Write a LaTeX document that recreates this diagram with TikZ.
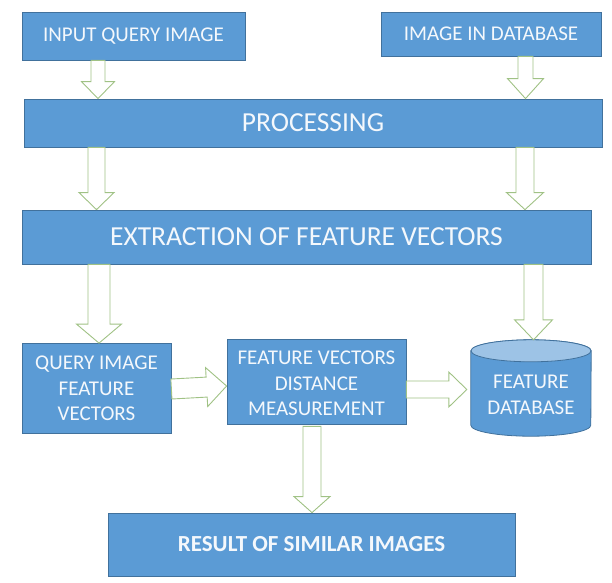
\documentclass[tikz,border=0pt]{standalone}
\usepackage{fontspec}
\setmainfont{Carlito}
\usetikzlibrary{calc,backgrounds}

\definecolor{boxblue}{HTML}{5B9BD5}
\definecolor{boxedge}{HTML}{41719C}
\definecolor{captop}{HTML}{9DC3E6}
\definecolor{arrowedge}{HTML}{A0C285}
\definecolor{labelwhite}{HTML}{F4F8FC}

\tikzset{
  blockbox/.style={rectangle, draw=boxedge, fill=boxblue, line width=0.8pt,
    inner sep=0pt, text=labelwhite, align=center, font=\fontsize{21}{25.5}\selectfont},
  widebox/.style={blockbox, font=\fontsize{27.5}{31}\selectfont},
  resultbox/.style={blockbox, font=\fontsize{23}{27}\selectfont\bfseries},
  cylframe/.style={rectangle, inner sep=0pt},
  cyllabel/.style={inner sep=0pt, text=labelwhite, align=center,
    font=\fontsize{21}{25.5}\selectfont},
  cylbody/.style={fill=boxblue, draw=boxedge, line width=0.8pt},
  cylcap/.style={fill=captop, draw=boxedge, line width=0.8pt},
  blockarrow/.style={draw=arrowedge, fill=white, line width=0.9pt, line join=miter}
}

% hollow block arrow: start, tip, shaft half-width, head half-width, head length
\newcommand\fatarrow[5]{%
  \coordinate (fa-h) at ($(#2)!#5!(#1)$);
  \draw[blockarrow]
    ($(#1)!#3!90:(#2)$) -- ($(fa-h)!#3!-90:(#1)$) -- ($(fa-h)!#4!-90:(#1)$)
    -- (#2) -- ($(fa-h)!#4!90:(#1)$) -- ($(fa-h)!#3!90:(#1)$)
    -- ($(#1)!#3!-90:(#2)$) -- cycle;}

\begin{document}
\begin{tikzpicture}[x=1pt,y=-1pt]
  \useasboundingbox (0,0) rectangle (612,582);

  % boxes
  \node[blockbox, minimum width=223pt, minimum height=48pt] (inq) at (133.5,36) {INPUT QUERY IMAGE};
  \node[blockbox, minimum width=220pt, minimum height=44pt] (imdb) at (491,34) {IMAGE IN DATABASE};
  \node[widebox, minimum width=578pt, minimum height=48pt] (proc) at (313,123) {PROCESSING};
  \node[widebox, minimum width=569pt, minimum height=54pt] (extr) at (306.5,237) {EXTRACTION OF FEATURE VECTORS};
  \node[blockbox, minimum width=149pt, minimum height=90pt] (qfv) at (96.5,388.5) {QUERY IMAGE\\FEATURE\\VECTORS};
  \node[blockbox, minimum width=179pt, minimum height=85pt] (fvd) at (316.5,381.5) {\strut FEATURE VECTORS\\DISTANCE\\MEASUREMENT};
  \node[resultbox, minimum width=407pt, minimum height=63pt] (res) at (311.5,544.5) {RESULT OF SIMILAR IMAGES};

  % feature database cylinder
  \node[cylframe, minimum width=120pt, minimum height=96pt] (fdb) at (531,388) {};
  \begin{scope}[on background layer]
    \path[cylbody] ([yshift=-11pt]fdb.north west) -- ([yshift=11pt]fdb.south west)
      arc[start angle=180, end angle=360, x radius=60pt, y radius=11pt]
      -- ([yshift=-11pt]fdb.north east)
      arc[start angle=0, end angle=180, x radius=60pt, y radius=11pt] -- cycle;
    \path[cylcap] ([yshift=-11pt]fdb.north) ellipse[x radius=60pt, y radius=11pt];
  \end{scope}
  \node[cyllabel] (fdbtext) at ([yshift=-7pt]fdb.center) {FEATURE\\DATABASE};

  % arrows
  \fatarrow{[xshift=-35.5pt]inq.south}{[xshift=-215pt]proc.north}{7pt}{16.5pt}{17pt}
  \fatarrow{[xshift=34.5pt]imdb.south}{[xshift=212.5pt]proc.north}{7.5pt}{18pt}{20pt}
  \fatarrow{[xshift=-216.5pt]proc.south}{[xshift=-210pt]extr.north}{8.5pt}{17.5pt}{17pt}
  \fatarrow{[xshift=212pt]proc.south}{[xshift=218.5pt]extr.north}{9pt}{18.5pt}{17pt}
  \fatarrow{[xshift=-207.5pt]extr.south}{[xshift=2.5pt]qfv.north}{11pt}{22.5pt}{19pt}
  \fatarrow{[xshift=227pt]extr.south}{[xshift=2.5pt]fdb.north}{9.5pt}{19pt}{20pt}
  \fatarrow{[yshift=-0.5pt]qfv.east}{[yshift=-4.5pt]fvd.west}{10pt}{19.5pt}{20pt}
  \fatarrow{[yshift=-8pt]fvd.east}{[xshift=-4pt,yshift=-1.5pt]fdb.west}{8.5pt}{17.5pt}{18pt}
  \fatarrow{[xshift=-4.5pt,yshift=-2pt]fvd.south}{[xshift=0.5pt]res.north}{9pt}{18pt}{16pt}
\end{tikzpicture}
\end{document}
